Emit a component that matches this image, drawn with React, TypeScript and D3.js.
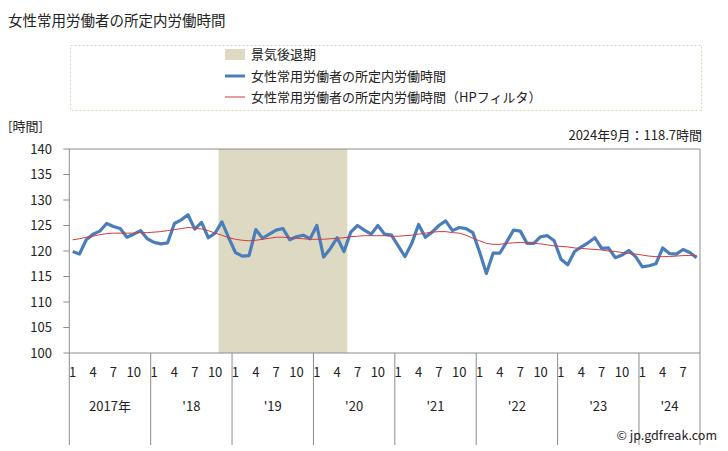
import React from "react";
import * as d3 from "d3";

const yearLabels = ["2017年", "'18", "'19", "'20", "'21", "'22", "'23", "'24"];
const monthTickLabels = ["1", "4", "7", "10"];

const hours = [
  119.9, 119.4, 122.2, 123.3, 123.9, 125.4, 124.8, 124.4, 122.7, 123.3, 124.0, 122.4,
  121.7, 121.4, 121.6, 125.4, 126.1, 127.1, 124.3, 125.6, 122.6, 123.5, 125.7, 122.6,
  119.7, 119.0, 119.1, 124.2, 122.5, 123.3, 124.1, 124.4, 122.2, 122.8, 123.1, 122.4,
  125.0, 118.8, 120.5, 122.6, 119.9, 123.7, 125.0, 124.1, 123.3, 125.0, 123.3, 123.1,
  121.0, 118.9, 121.5, 125.2, 122.7, 123.7, 125.0, 125.9, 124.0, 124.6, 124.4, 123.6,
  119.8, 115.6, 119.6, 119.6, 121.8, 124.1, 123.9, 121.5, 121.5, 122.8, 123.0, 122.0,
  118.4, 117.3, 119.9, 120.8, 121.6, 122.6, 120.5, 120.6, 118.7, 119.2, 120.1, 118.9,
  116.9, 117.1, 117.5, 120.6, 119.5, 119.4, 120.3, 119.7, 118.7,
];

const hpTrend = [
  122.2, 122.4, 122.7, 122.9, 123.2, 123.4, 123.5, 123.5, 123.5, 123.5, 123.6, 123.6,
  123.7, 123.8, 124.0, 124.2, 124.4, 124.6, 124.5, 124.3, 124.0, 123.5, 123.1, 122.6,
  122.3, 122.1, 122.0, 122.1, 122.3, 122.5, 122.7, 122.7, 122.6, 122.5, 122.4, 122.3,
  122.3, 122.3, 122.4, 122.5, 122.6, 122.8, 122.9, 123.0, 123.0, 123.0, 123.0, 122.9,
  122.9, 123.0, 123.1, 123.3, 123.5, 123.7, 123.8, 123.8, 123.6, 123.5, 123.1, 122.5,
  122.0, 121.5, 121.3, 121.3, 121.5, 121.6, 121.7, 121.6, 121.5, 121.4, 121.2, 121.0,
  120.9, 120.8, 120.6, 120.5, 120.4, 120.3, 120.2, 120.0, 119.9, 119.7, 119.5, 119.4,
  119.2, 119.0, 118.9, 118.9, 118.9, 119.0, 119.1, 119.1, 119.1,
];

// recession: 2018-11 .. 2020-05 (month indices)
const recessionStart = 22;
const recessionEnd = 40;

const yTicks = [100, 105, 110, 115, 120, 125, 130, 135, 140];

const FONT = "'Noto Sans CJK JP', 'Noto Sans', sans-serif";

export default function App() {
  const W = 728, H = 451;
  const left = 69.3, right = 700, top = 149, bottom = 353;
  const n = hours.length;
  const idx = d3.range(n);
  const x = d3.scaleBand<number>().domain(idx).range([left, right]).paddingInner(0).paddingOuter(0);
  const bw = x.bandwidth();
  const cx = (i: number) => (x(i) as number) + bw / 2;
  const y = d3.scaleLinear().domain([100, 140]).range([bottom, top]);

  const line = d3.line<number>().x((_, i) => cx(i)).y((d) => y(d));

  const years = d3.range(yearLabels.length);
  const yearStart = (k: number) => x(k * 12) as number;
  const yearEnd = (k: number) => {
    const last = Math.min(k * 12 + 11, n - 1);
    return (x(last) as number) + bw;
  };

  const recX0 = x(recessionStart) as number;
  const recX1 = (x(recessionEnd) as number) + bw;

  const grey = "#8c8c8c";
  const blue = "#4a7ebb";
  const red = "#d03c3c";

  return (
    <svg width={W} height={H} style={{ position: "absolute", left: 0, top: 0, background: "#fff" }} fontFamily={FONT}>
      <text x={8} y={26} fontSize={14.5} fill="#222">女性常用労働者の所定内労働時間</text>

      {/* legend */}
      <rect x={70.5} y={45.5} width={631} height={65} fill="none" stroke="#d8d4b8" strokeDasharray="2,2" />
      <rect x={225} y={49} width={20} height={11} fill="#ddd9c3" />
      <text x={251} y={59} fontSize={13} fill="#222">景気後退期</text>
      <line x1={225} x2={245} y1={76} y2={76} stroke={blue} strokeWidth={3} />
      <text x={251} y={80.5} fontSize={13} fill="#222">女性常用労働者の所定内労働時間</text>
      <line x1={225} x2={245} y1={97} y2={97} stroke={red} strokeWidth={1} />
      <text x={251} y={101.5} fontSize={13} fill="#222">女性常用労働者の所定内労働時間（HPフィルタ）</text>

      <text x={8} y={131} fontSize={13} fill="#222">[時間]</text>
      <text x={702} y={140} fontSize={13} fill="#222" textAnchor="end">2024年9月：118.7時間</text>

      {/* recession shading */}
      <rect x={recX0} y={top} width={recX1 - recX0} height={bottom - top} fill="#ddd9c3" />

      {/* frame */}
      <line x1={left} x2={right} y1={top} y2={top} stroke={grey} />
      <line x1={right} x2={right} y1={top} y2={bottom} stroke={grey} />
      <line x1={left} x2={left} y1={top} y2={bottom} stroke={grey} />
      <line x1={left} x2={right} y1={bottom} y2={bottom} stroke={grey} />

      {/* y axis */}
      {yTicks.map((t) => (
        <g key={t}>
          <line x1={left - 6} x2={left} y1={y(t)} y2={y(t)} stroke={grey} />
          <text x={52} y={y(t) + 4.5} fontSize={13} textAnchor="end" fill="#222">{t}</text>
        </g>
      ))}

      {/* x axis */}
      {years.map((k) => (
        <g key={k}>
          <line x1={yearStart(k)} x2={yearStart(k)} y1={bottom} y2={445} stroke={grey} />
          <text x={(yearStart(k) + yearEnd(k)) / 2} y={411} fontSize={13} textAnchor="middle" fill="#222">{yearLabels[k]}</text>
          {monthTickLabels.map((m) => {
            const i = k * 12 + (+m - 1);
            if (i >= n) return null;
            return (
              <text key={m} x={cx(i)} y={377} fontSize={13} textAnchor="middle" fill="#222">{m}</text>
            );
          })}
        </g>
      ))}
      <line x1={right} x2={right} y1={bottom} y2={445} stroke={grey} />

      {/* series */}
      <path d={line(hours) || ""} fill="none" stroke={blue} strokeWidth={3.2} strokeLinejoin="round" />
      <path d={line(hpTrend) || ""} fill="none" stroke={red} strokeWidth={1} />

      <text x={717} y={440} fontSize={12.5} textAnchor="end" fill="#222">© jp.gdfreak.com</text>
    </svg>
  );
}
